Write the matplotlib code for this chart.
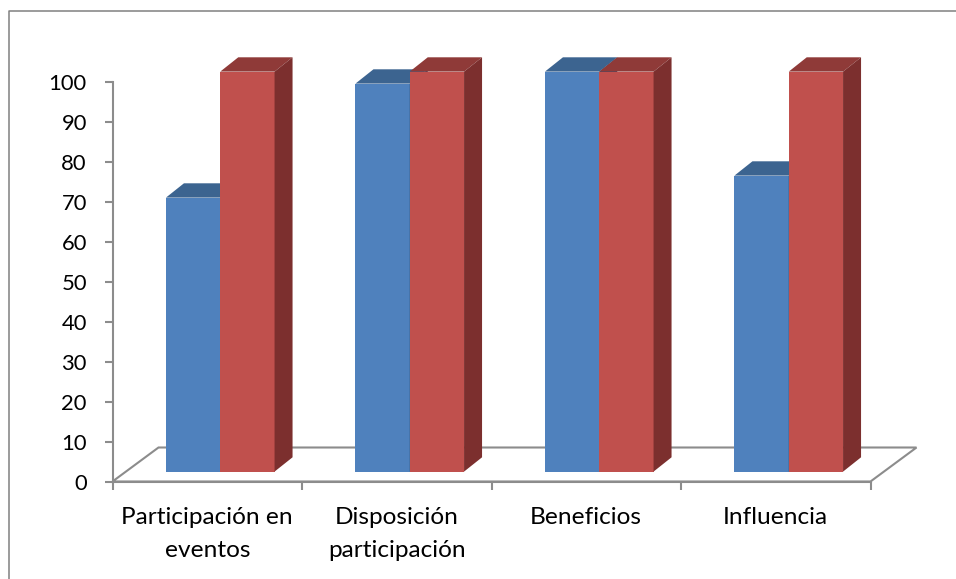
import matplotlib
matplotlib.use("Agg")
import matplotlib.pyplot as plt
from matplotlib.lines import Line2D
import numpy as np

categories = ["Participación en\neventos", "Disposición\nparticipación", "Beneficios", "Influencia"]
blue_values = [68.5, 97, 100, 74]
red_values = [100, 100, 100, 100]
y_ticks = list(range(0, 101, 10))

W, H = 956, 579
plt.rcParams['font.family'] = ['Lato', 'DejaVu Sans']
fig = plt.figure(figsize=(W / 100, H / 100), dpi=100)
L, R, T, B = 112.5, 870.5, 81.5, 481.5
ax = fig.add_axes([L / W, 1 - B / H, (R - L) / W, (B - T) / H])
ax.set_xlim(0, 4)
ax.set_ylim(0, 100)
ux = (R - L) / 4   # px per category
uy = (B - T) / 100  # px per value

GRAY = '#8c8c8c'
# floor (style offsets in px converted to data units)
fdx, fdy = 46 / ux, 34 / uy
ax.fill([0, 4, 4 + fdx, fdx], [0, 0, fdy, fdy], facecolor='white', edgecolor=GRAY,
        lw=1.5, clip_on=False, zorder=1)

# bars
bw = 54.3 / ux
sx, sy = 13.0 / ux, 9.9 / uy      # shift of the bar plane from the axis plane
dx, dy = 18 / ux, 14.3 / uy       # bar depth

def bar3d(x0, v, front, top, side, z):
    ax.bar(x0, v, width=bw, bottom=sy, align='edge', color=front, clip_on=False, zorder=z, lw=0)
    ax.fill([x0, x0 + bw, x0 + bw + dx, x0 + dx], [sy + v, sy + v, sy + v + dy, sy + v + dy],
            color=top, lw=0, clip_on=False, zorder=z)
    ax.fill([x0 + bw, x0 + bw + dx, x0 + bw + dx, x0 + bw], [sy, sy + dy, sy + v + dy, sy + v],
            color=side, lw=0, clip_on=False, zorder=z)

centers = np.arange(len(categories)) + 0.5
for c, bv, rv in zip(centers, blue_values, red_values):
    m = c + sx
    bar3d(m - bw, bv, '#4f81bd', '#3c6490', '#2f4f75', 3)
    bar3d(m, rv, '#c0504d', '#8f3a38', '#7c2f2e', 4)

# axes
for s in ('top', 'right'):
    ax.spines[s].set_visible(False)
for s in ('left', 'bottom'):
    ax.spines[s].set_color(GRAY)
    ax.spines[s].set_linewidth(1.5)
    ax.spines[s].set_zorder(2)
ax.set_yticks(y_ticks)
ax.set_xticks(np.arange(5))
ax.set_xticklabels([])
ax.set_xticks(centers, minor=True)
ax.set_xticklabels(categories, minor=True, fontsize=17.6, linespacing=1.72, color='black')
ax.tick_params(axis='x', which='minor', length=0, pad=18)
ax.tick_params(axis='both', which='major', length=6, width=1.5, color=GRAY, labelsize=15.8, labelcolor='black')
ax.tick_params(axis='y', pad=12.5)

# outer frame of the picture
fig.add_artist(Line2D([8.5 / W, 8.5 / W, 1], [0, 1 - 10.5 / H, 1 - 10.5 / H],
                      transform=fig.transFigure, color='#808080', lw=1.1))

fig.savefig('out.png', dpi=100)
